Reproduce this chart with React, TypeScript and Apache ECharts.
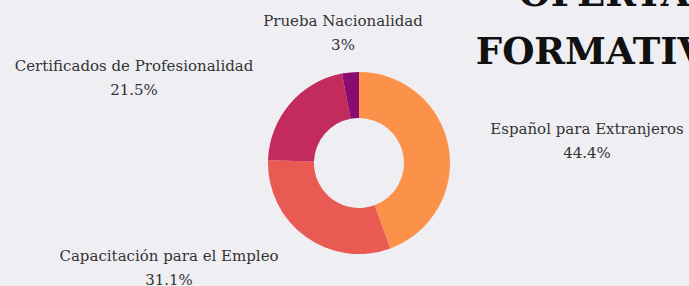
import React, { useEffect, useRef } from "react";
import * as echarts from "echarts";

const categories = [
  "Español para Extranjeros",
  "Capacitación para el Empleo",
  "Certificados de Profesionalidad",
  "Prueba Nacionalidad",
];
const values = [44.4, 31.1, 21.5, 3];
const colors = ["#fc914a", "#e95a53", "#c22b5c", "#8a0c70"];
const titleLines = ["OFERTA", "FORMATIVA"];

// label anchor points (px) for each category's label block
const labelAnchors: [number, number][] = [
  [587, 141],
  [169, 268],
  [134, 78],
  [343, 33],
];

export default function App() {
  const ref = useRef<HTMLDivElement>(null);
  useEffect(() => {
    document.body.style.margin = "0";
    document.body.style.background = "#efeff3";
    if (!ref.current) return;
    const chart = echarts.init(ref.current, undefined, { renderer: "svg" });
    const labelFont = "DejaVu Serif";
    chart.setOption({
      animation: false,
      backgroundColor: "#efeff3",
      graphic: [
        {
          type: "text",
          x: 604,
          y: -7,
          style: {
            text: titleLines[0],
            font: "bold 37px 'DejaVu Serif'",
            fill: "#111111",
            textAlign: "center",
            textVerticalAlign: "middle",
          },
        },
        {
          type: "text",
          x: 604,
          y: 51,
          style: {
            text: titleLines[1],
            font: "bold 37px 'DejaVu Serif'",
            fill: "#111111",
            textAlign: "center",
            textVerticalAlign: "middle",
          },
        },
      ],
      series: [
        {
          type: "pie",
          center: [359, 163],
          radius: [45, 91],
          startAngle: 90,
          clockwise: true,
          silent: true,
          emphasis: { disabled: true },
          labelLine: { show: false },
          label: {
            show: true,
            position: "outside",
            formatter: (p: any) => `${p.name}\n${p.value}%`,
            fontFamily: labelFont,
            fontSize: 15,
            lineHeight: 24,
            color: "#333333",
            align: "center",
            overflow: "none",
            width: 400,
          },
          labelLayout: (p: any) => {
            const a = labelAnchors[p.dataIndex];
            return {
              x: a[0],
              y: a[1],
              align: "center",
              verticalAlign: "middle",
            };
          },
          data: categories.map((c, i) => ({
            name: c,
            value: values[i],
            itemStyle: { color: colors[i] },
          })),
        },
      ],
    });
    return () => chart.dispose();
  }, []);
  return <div ref={ref} style={{ width: 689, height: 286 }} />;
}
